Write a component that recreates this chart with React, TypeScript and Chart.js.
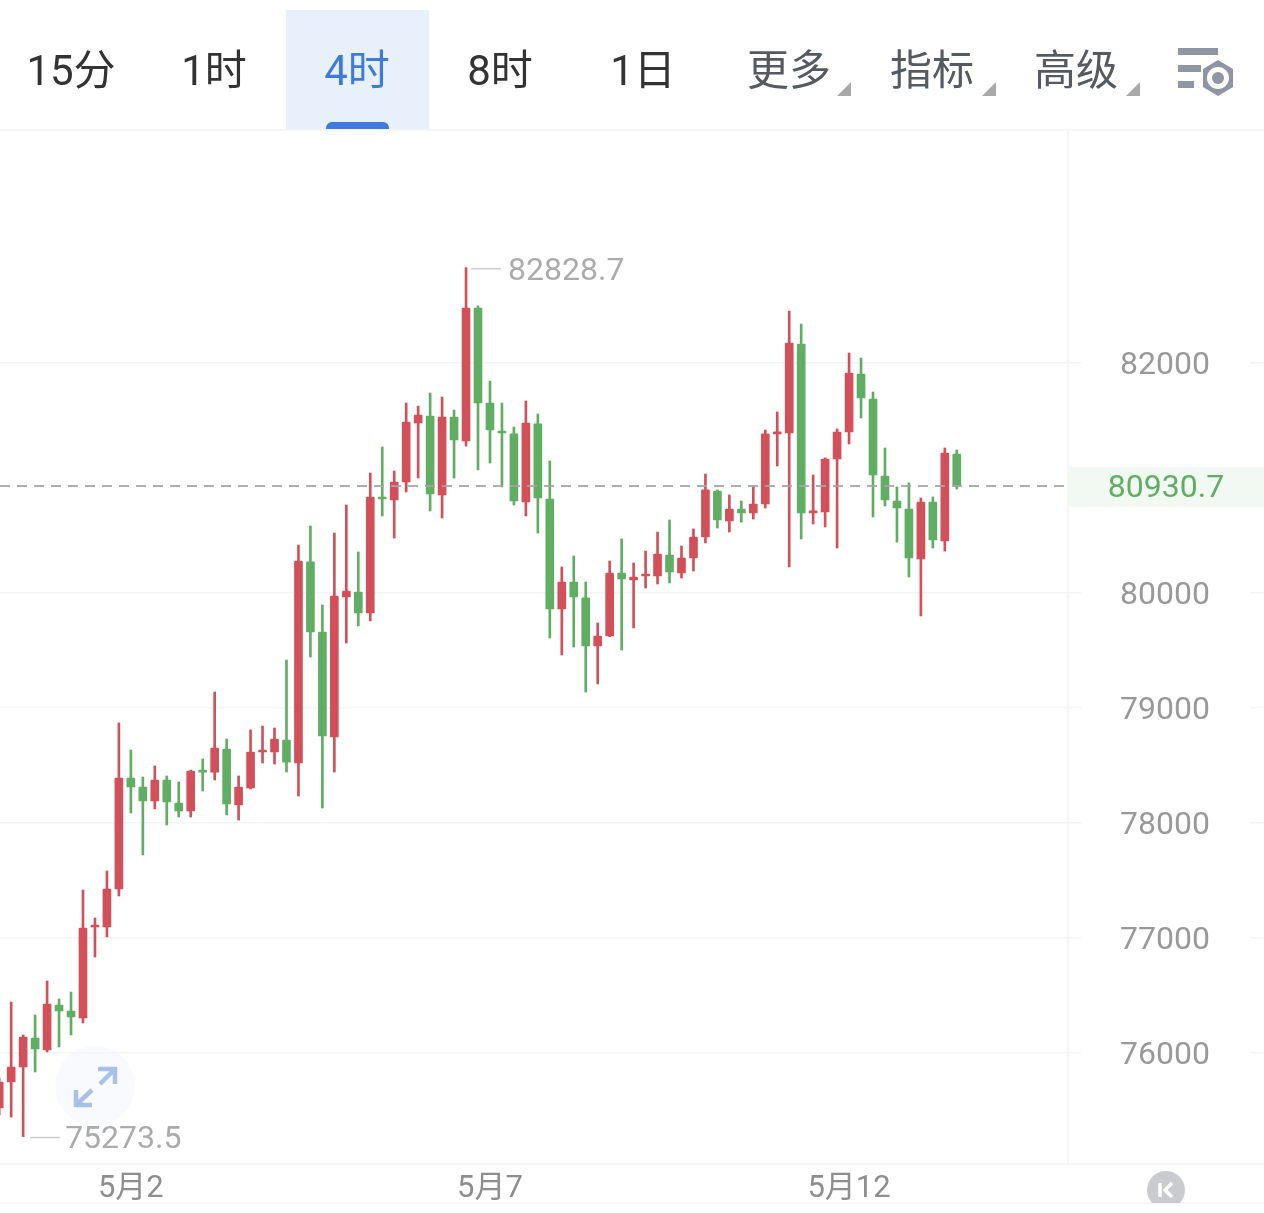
import React, { useEffect, useRef } from "react";
import Chart from "chart.js/auto";

const opens = [75522,75748,75878,76130,76026,76417,76365,76304,77096,77096,
77426,78391,78313,78191,78374,78174,78104,78452,78443,78643,
78157,78304,78617,78617,78722,78522,80270,79661,78748,79965,
80009,79826,80826,80809,80965,81478,81539,80852,81530,81322,
82478,81652,81409,81383,80791,81470,80817,79861,80096,79957,
79539,79626,80174,80113,80148,80148,80330,80174,80304,80487,
80887,80626,80730,80696,80774,81383,81391,82165,80696,80704,
81165,81400,81904,81687,81017,80800,80730,80296,80791,80452,81209];
const closes = [75748,75878,76139,76035,76426,76365,76313,77087,77104,77426,
78391,78313,78191,78374,78183,78104,78452,78443,78652,78165,
78313,78617,78626,78730,78530,80278,79661,78757,79974,80017,
79826,80835,80817,80965,81487,81548,80861,81530,81330,82478,
81652,81417,81391,80800,81478,80826,79861,80096,79965,79539,
79626,80174,80122,80139,80157,80339,80183,80304,80487,80896,
80635,80730,80696,80774,81383,81400,82174,80696,80713,81165,
81400,81913,81696,81026,80809,80739,80304,80791,80461,81217,80930.7];
const highs = [75783,76443,76157,76330,76626,76470,76530,77417,77174,77583,
78870,78635,78400,78496,78409,78357,78460,78557,79139,78730,
78409,78809,78843,78826,79417,80417,80583,79896,80522,80765,
80357,81043,81270,81061,81652,81626,81739,81704,81591,82828.7,
82496,81843,81652,81443,81670,81557,81148,80226,80322,80096,
79739,80278,80470,80261,80365,80530,80635,80409,80557,81035,
80896,80852,80800,80922,81417,81574,82452,82339,81026,81175,
81426,82087,82043,81748,81261,80922,80957,80826,80835,81261,81243];
const lows = [75461,75443,75273.5,75835,76009,76052,76157,76261,76835,77009,
77365,78087,77722,78122,77983,78052,78052,78278,78374,78070,
78026,78296,78522,78513,78443,78235,79443,78130,78443,79565,
79713,79757,80670,80478,80878,81000,80713,80652,81000,81278,
81070,81130,80922,80765,80670,80522,79609,79461,79530,79139,
79209,79620,79504,79696,80043,80078,80087,80130,80191,80435,
80565,80530,80617,80643,80739,81104,80226,80470,80600,80574,
80391,81296,81522,80661,80757,80443,80139,79800,80391,80365,80904];

const yTicks = [76000, 77000, 78000, 79000, 80000, 82000];
const xTickIndex = [11, 41, 71];
const xTickLabels = ["5月2", "5月7", "5月12"];
const currentPrice = 80930.7;
const tabs = ["15分", "1时", "4时", "8时", "1日"];
const tabCenters = [71, 214, 357, 500, 643];
const menus = ["更多", "指标", "高级"];
const menuCenters = [789, 932, 1076];

const RED = "#d1505a";
const GREEN = "#5fae63";
const NUM_FONT = "Roboto, 'Noto Sans CJK SC', sans-serif";

const pxPerCandle = 11.97;
const xMin = 0.8 / pxPerCandle;
const xMax = xMin + 1264 / pxPerCandle;
const priceLineEnd = 89.04;

const chromePlugin = {
  id: "chrome",
  beforeDatasetsDraw(chart: any) {
    const ctx = chart.ctx;
    ctx.save();
    ctx.strokeStyle = "#f3f3f3";
    ctx.lineWidth = 1.5;
    ctx.beginPath();
    ctx.moveTo(1068, 130);
    ctx.lineTo(1068, 1164);
    ctx.moveTo(0, 1164);
    ctx.lineTo(1264, 1164);
    ctx.moveTo(0, 1203);
    ctx.lineTo(1264, 1203);
    ctx.stroke();
    ctx.restore();
  },
  afterDraw(chart: any) {
    const ctx = chart.ctx;
    const xs = chart.scales.x;
    const ys = chart.scales.y;
    ctx.save();
    // current price tag
    const py = ys.getPixelForValue(currentPrice);
    ctx.fillStyle = "#f2f8f2";
    ctx.fillRect(1068, py - 19, 196, 40);
    ctx.fillStyle = GREEN;
    ctx.font = `400 32px ${NUM_FONT}`;
    ctx.textAlign = "center";
    ctx.textBaseline = "middle";
    ctx.fillText(currentPrice.toFixed(1), 1166, py + 3);
    // extreme labels
    const hi = Math.max(...highs);
    const lo = Math.min(...lows);
    const marks = [
      { v: hi, i: highs.indexOf(hi), a: 5, b: 35, t: 42, dy: 4 },
      { v: lo, i: lows.indexOf(lo), a: 7, b: 37, t: 42, dy: 3 },
    ];
    ctx.textAlign = "left";
    for (const m of marks) {
      const x = xs.getPixelForValue(m.i);
      const y = ys.getPixelForValue(m.v);
      ctx.strokeStyle = "#cccccc";
      ctx.lineWidth = 1.5;
      ctx.beginPath();
      ctx.moveTo(x + m.a, y + 1);
      ctx.lineTo(x + m.b, y + 1);
      ctx.stroke();
      ctx.fillStyle = "#ababab";
      ctx.fillText(m.v.toFixed(1), x + m.t, y + m.dy);
    }
    ctx.restore();
  },
};

const abs = (extra: React.CSSProperties): React.CSSProperties => ({ position: "absolute", ...extra });

export default function App() {
  const ref = useRef<HTMLCanvasElement>(null);
  useEffect(() => {
    const idx = opens.map((_, i) => i);
    const colors = idx.map((i) => (closes[i] >= opens[i] ? RED : GREEN));
    const chart = new Chart(ref.current as HTMLCanvasElement, {
      type: "bar",
      data: {
        datasets: [
          {
            type: "line",
            data: [
              { x: xMin, y: currentPrice },
              { x: priceLineEnd, y: currentPrice },
            ],
            borderColor: "rgba(165,165,165,0.9)",
            borderWidth: 2,
            borderDash: [10, 7],
            pointRadius: 0,
            order: 0,
          },
          {
            data: idx.map((i) => ({ x: i, y: [opens[i], closes[i]] })),
            backgroundColor: colors,
            barThickness: 8,
            minBarLength: 2,
            grouped: false,
            borderRadius: 1,
            order: 1,
          },
          {
            data: idx.map((i) => ({ x: i, y: [lows[i], highs[i]] })),
            backgroundColor: colors,
            barThickness: 2,
            grouped: false,
            order: 2,
          },
        ] as any,
      },
      options: {
        animation: false,
        responsive: false,
        events: [],
        layout: { autoPadding: false, padding: { top: 130, left: 0, right: 0, bottom: 0 } },
        plugins: { legend: { display: false }, tooltip: { enabled: false } },
        scales: {
          x: {
            type: "linear",
            offset: false,
            min: xMin,
            max: xMax,
            grid: { display: false, offset: false },
            border: { display: false },
            afterBuildTicks: (s: any) => {
              s.ticks = xTickIndex.map((value) => ({ value }));
            },
            afterFit: (s: any) => {
              s.height = 49;
            },
            ticks: {
              autoSkip: false,
              maxRotation: 0,
              padding: -1,
              color: "#8e8e8e",
              font: { family: NUM_FONT, size: 31, weight: 400 },
              callback: (v: any) => xTickLabels[xTickIndex.indexOf(Number(v))] ?? "",
            },
          },
          y: {
            type: "linear",
            position: "right",
            min: 75034.8,
            max: 84026,
            afterBuildTicks: (s: any) => {
              s.ticks = yTicks.map((value) => ({ value }));
            },
            afterFit: (s: any) => {
              s.width = 0;
            },
            grid: { color: "#f4f4f4", lineWidth: 1.5, drawTicks: false },
            border: { display: false },
            ticks: {
              mirror: true,
              padding: -54,
              labelOffset: 3,
              color: "#999999",
              font: { family: NUM_FONT, size: 32, weight: 400 },
              callback: (v: any) => String(v),
              showLabelBackdrop: true,
              backdropColor: "#ffffff",
              backdropPadding: { left: 39, right: 40, top: 8, bottom: 6 },
            },
          },
        },
      } as any,
      plugins: [chromePlugin as any],
    });
    return () => chart.destroy();
  }, []);

  const tabFont: React.CSSProperties = {
    fontFamily: "Roboto, 'Noto Sans CJK SC', sans-serif",
    fontSize: 42,
    fontWeight: 400,
    lineHeight: "50px",
    top: 46,
    whiteSpace: "nowrap",
    transform: "translateX(-50%)",
  };

  return (
    <div style={{ position: "relative", width: 1264, height: 1213, overflow: "hidden", background: "#fff" }}>
      <style>{"html,body{margin:0;padding:0;background:#fff;overflow:hidden}"}</style>
      <canvas ref={ref} width={1264} height={1213} style={{ position: "absolute", left: 0, top: 0, display: "block" }} />
      <div style={abs({ left: 0, top: 129, width: 1264, height: 2, background: "#f6f6f6" })} />
      <div style={abs({ left: 286, top: 10, width: 143, height: 119, background: "#e7f0fb" })} />
      <div style={abs({ left: 326, top: 122, width: 63, height: 7, background: "#3f7bdc", borderRadius: "6px 6px 0 0" })} />
      {tabs.map((t, i) => (
        <div key={t} style={abs({ ...tabFont, left: tabCenters[i], color: i === 2 ? "#3f7bdc" : "#333333" })}>
          {t}
        </div>
      ))}
      {menus.map((t, i) => (
        <div key={t} style={abs({ ...tabFont, left: menuCenters[i], color: "#555a60" })}>
          {t}
        </div>
      ))}
      <svg width={1264} height={1213} style={{ position: "absolute", left: 0, top: 0, pointerEvents: "none" }}>
        {[851, 996, 1140].map((x) => (
          <polygon key={x} points={`${x},82 ${x},96 ${x - 14},96`} fill="#a9a9a9" />
        ))}
        <g fill="#8f95a3">
          <rect x={1178} y={48} width={40} height={7} />
          <rect x={1178} y={65} width={23} height={7} />
          <rect x={1178} y={81} width={16} height={7} />
        </g>
        <polygon points="1218,60 1233,69 1233,87 1218,96 1203,87 1203,69" fill="#8f95a3" />
        <circle cx={1218} cy={78} r={11} fill="#ffffff" />
        <circle cx={1218} cy={78} r={6} fill="#8f95a3" />
        <circle cx={95} cy={1086} r={40} fill="#f2f6fc" fillOpacity={0.5} />
        <g stroke="#a9c1e8" strokeWidth={4.5} fill="none">
          <path d="M98 1069 H115 V1084 M115 1069 L100 1084" />
          <path d="M76 1090 V1105 H92 M76 1105 L92 1090" />
        </g>
        <clipPath id="kclip">
          <rect x={1140} y={1165} width={60} height={38} />
        </clipPath>
        <g clipPath="url(#kclip)">
          <circle cx={1166} cy={1190} r={19} fill="#c9cbcf" />
        </g>
        <path d="M1160 1183 V1197 M1172 1183 L1165 1190 L1172 1197" stroke="#ffffff" strokeWidth={3.5} fill="none" />
      </svg>
    </div>
  );
}
